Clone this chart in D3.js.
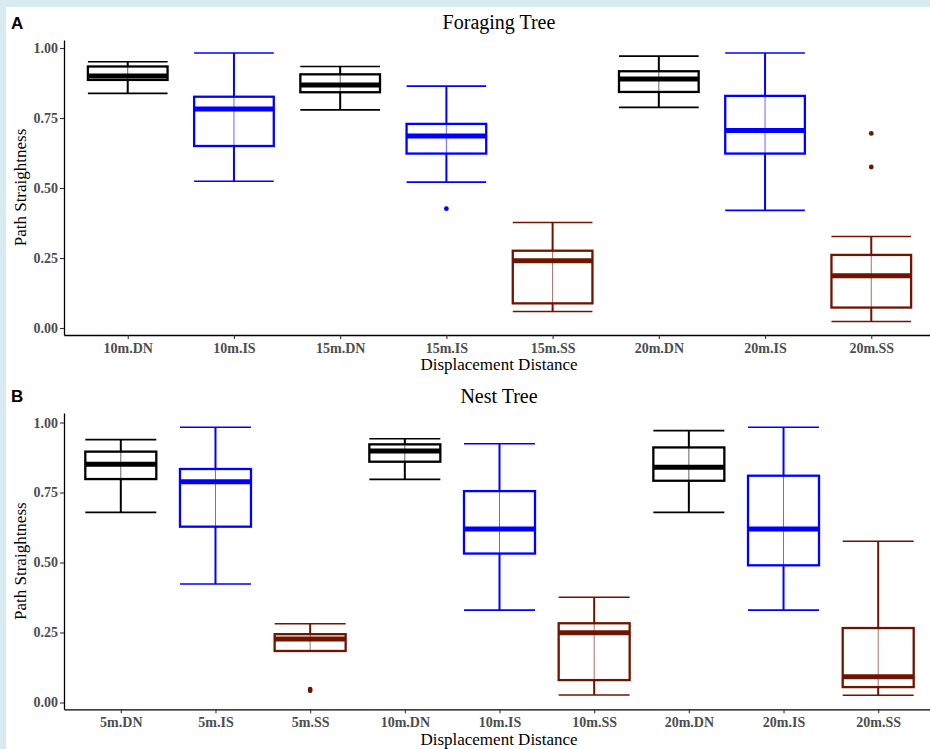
<!DOCTYPE html>
<html>
<head>
<meta charset="utf-8">
<script src="https://cdn.jsdelivr.net/npm/d3@7"></script>
<style>
  html, body { margin: 0; padding: 0; background: #d7ebf1; }
  svg { display: block; }
</style>
</head>
<body>
<svg id="chart" width="930" height="749"></svg>
<script>
// ---------- Panel A: Foraging Tree ----------
const catsA  = ["10m.DN","10m.IS","15m.DN","15m.IS","15m.SS","20m.DN","20m.IS","20m.SS"];
const lowA   = [0.838, 0.524, 0.779, 0.521, 0.059, 0.788, 0.420, 0.023];
const q1A    = [0.886, 0.650, 0.842, 0.623, 0.088, 0.843, 0.623, 0.073];
const medA   = [0.900, 0.782, 0.868, 0.686, 0.240, 0.889, 0.705, 0.187];
const q3A    = [0.934, 0.826, 0.906, 0.729, 0.276, 0.917, 0.829, 0.261];
const highA  = [0.951, 0.982, 0.934, 0.864, 0.377, 0.971, 0.982, 0.327];
const outCatA = ["15m.IS", "20m.SS", "20m.SS"];
const outValA = [0.426, 0.695, 0.575];

// ---------- Panel B: Nest Tree ----------
const catsB  = ["5m.DN","5m.IS","5m.SS","10m.DN","10m.IS","10m.SS","20m.DN","20m.IS","20m.SS"];
const lowB   = [0.679, 0.423, 0.184, 0.797, 0.330, 0.027, 0.679, 0.330, 0.026];
const q1B    = [0.798, 0.628, 0.184, 0.860, 0.532, 0.080, 0.792, 0.490, 0.055];
const medB   = [0.851, 0.788, 0.227, 0.898, 0.620, 0.249, 0.840, 0.620, 0.092];
const q3B    = [0.896, 0.834, 0.244, 0.922, 0.755, 0.283, 0.911, 0.810, 0.266];
const highB  = [0.939, 0.983, 0.281, 0.942, 0.924, 0.376, 0.971, 0.983, 0.576];
const outCatB = ["5m.SS", "5m.SS"];
const outValB = [0.048, 0.042];

const yTicks = [0, 0.25, 0.5, 0.75, 1.0];
const groupColors = { DN: "#000000", IS: "#0000ff", SS: "#6e1400" };

const svg = d3.select("#chart");
svg.append("rect").attr("x", 6).attr("y", 7).attr("width", 924).attr("height", 742).attr("fill", "#ffffff");

function drawPanel(opt) {
  const g = svg.append("g");
  const x = d3.scalePoint().domain(opt.cats).range([64, 935]).padding(0.6);
  const y = d3.scaleLinear().domain(opt.yDomain).range([opt.bottom, opt.top]);
  const bw = x.step() * 0.75;
  const color = c => groupColors[c.split(".")[1]];

  // axes
  const ya = g.append("g").attr("transform", "translate(64,0)")
    .call(d3.axisLeft(y).tickValues(yTicks).tickFormat(d3.format(".2f")).tickSize(4).tickSizeOuter(0));
  ya.select(".domain").attr("stroke", "#000").attr("stroke-width", 1.3);
  ya.selectAll(".tick line").attr("stroke", "#333").attr("stroke-width", 1.1);
  ya.selectAll(".tick text").attr("x", -6).attr("fill", "#4d4d4d")
    .style("font-family", "'Liberation Serif', 'Times New Roman', serif")
    .style("font-weight", "bold").style("font-size", "14px");

  const xa = g.append("g").attr("transform", `translate(0,${opt.bottom})`)
    .call(d3.axisBottom(x).tickSize(4).tickSizeOuter(0));
  xa.select(".domain").attr("stroke", "#000").attr("stroke-width", 1.3);
  xa.selectAll(".tick line").attr("stroke", "#333").attr("stroke-width", 1.1);
  xa.selectAll(".tick text").attr("y", 8).attr("fill", "#4d4d4d")
    .style("font-family", "'Liberation Serif', 'Times New Roman', serif")
    .style("font-weight", "bold").style("font-size", "14px");

  // boxes
  opt.cats.forEach((c, i) => {
    const cx = x(c), col = color(c);
    const bg = g.append("g");
    // whisker segments outside box
    bg.append("line").attr("x1", cx).attr("x2", cx).attr("y1", y(opt.high[i])).attr("y2", y(opt.q3[i]))
      .attr("stroke", col).attr("stroke-width", 2);
    bg.append("line").attr("x1", cx).attr("x2", cx).attr("y1", y(opt.q1[i])).attr("y2", y(opt.low[i]))
      .attr("stroke", col).attr("stroke-width", 2);
    // caps
    [opt.high[i], opt.low[i]].forEach(v => {
      bg.append("line").attr("x1", cx - bw / 2).attr("x2", cx + bw / 2).attr("y1", y(v)).attr("y2", y(v))
        .attr("stroke", col).attr("stroke-width", 1.6);
    });
    // box
    bg.append("rect").attr("x", cx - bw / 2).attr("width", bw)
      .attr("y", y(opt.q3[i])).attr("height", Math.max(0, y(opt.q1[i]) - y(opt.q3[i])))
      .attr("fill", "#ffffff").attr("stroke", col).attr("stroke-width", 2.3);
    // median
    bg.append("line").attr("x1", cx - bw / 2).attr("x2", cx + bw / 2).attr("y1", y(opt.med[i])).attr("y2", y(opt.med[i]))
      .attr("stroke", col).attr("stroke-width", 5);
    // thin line through box
    bg.append("line").attr("x1", cx).attr("x2", cx).attr("y1", y(opt.q3[i])).attr("y2", y(opt.q1[i]))
      .attr("stroke", col).attr("stroke-width", 1).attr("opacity", 0.6);
  });

  // outliers
  opt.outCat.forEach((c, i) => {
    g.append("circle").attr("cx", x(c)).attr("cy", y(opt.outVal[i])).attr("r", 2.4).attr("fill", color(c));
  });

  // labels
  const serif = "'Liberation Serif', 'Times New Roman', serif";
  g.append("text").attr("x", 499).attr("y", opt.titleY).attr("text-anchor", "middle")
    .style("font-family", serif).style("font-size", "20px").attr("fill", "#000").text(opt.title);
  g.append("text").attr("x", 499).attr("y", opt.xlabY).attr("text-anchor", "middle")
    .style("font-family", serif).style("font-size", "17px").attr("fill", "#000").text("Displacement Distance");
  g.append("text").attr("transform", `translate(26,${(opt.top + opt.bottom) / 2}) rotate(-90)`).attr("text-anchor", "middle")
    .style("font-family", serif).style("font-size", "17px").attr("fill", "#000").text("Path Straightness");
  g.append("text").attr("x", 11).attr("y", opt.tagY)
    .style("font-family", "'Liberation Sans', Arial, sans-serif").style("font-weight", "bold").style("font-size", "17px")
    .attr("fill", "#000").text(opt.tag);
}

drawPanel({
  cats: catsA, low: lowA, q1: q1A, med: medA, q3: q3A, high: highA,
  outCat: outCatA, outVal: outValA,
  yDomain: [-0.025, 1.0286], top: 40, bottom: 335,
  title: "Foraging Tree", titleY: 29, xlabY: 370, tag: "A", tagY: 29
});
drawPanel({
  cats: catsB, low: lowB, q1: q1B, med: medB, q3: q3B, high: highB,
  outCat: outCatB, outVal: outValB,
  yDomain: [-0.0243, 1.034], top: 413, bottom: 709.3,
  title: "Nest Tree", titleY: 403, xlabY: 745, tag: "B", tagY: 402
});
</script>
</body>
</html>
